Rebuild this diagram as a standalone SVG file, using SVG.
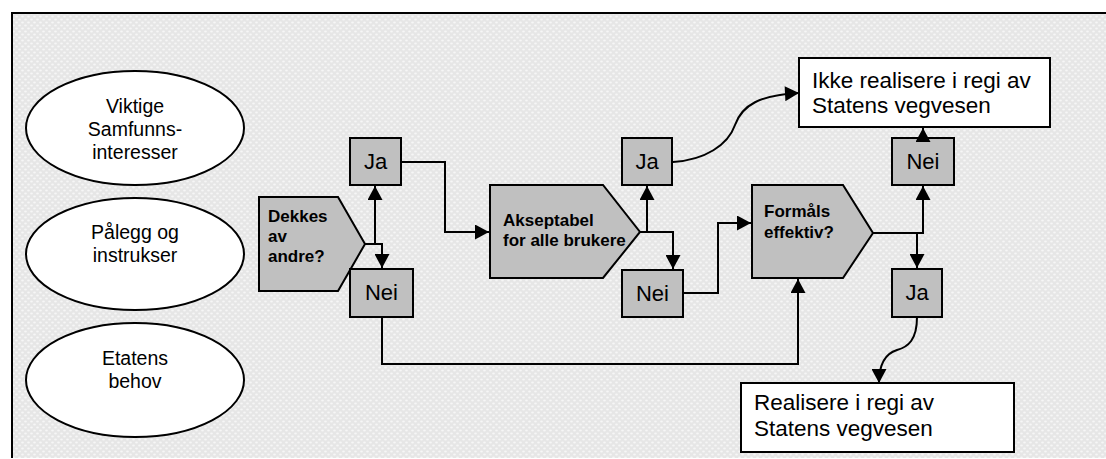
<svg xmlns="http://www.w3.org/2000/svg" width="1106" height="459" viewBox="0 0 1106 459">
<defs>
<pattern id="dots" x="0" y="0" width="6" height="6" patternUnits="userSpaceOnUse">
<rect width="6" height="6" fill="#e6e6e6"/>
<ellipse cx="1.5" cy="1.5" rx="1.4" ry="1" fill="#f6f6f6"/>
<ellipse cx="4.5" cy="4.5" rx="1.4" ry="1" fill="#f6f6f6"/>
</pattern>
<marker id="arr" markerUnits="userSpaceOnUse" markerWidth="15" markerHeight="15" viewBox="0 0 14 15" refX="14" refY="7.5" orient="auto">
<path d="M0,0 L14,7.5 L0,15 Z" fill="#000"/>
</marker>
<style>
.ell{fill:#fff;stroke:#000;stroke-width:2}
.dec{fill:#c0c0c0;stroke:#000;stroke-width:2}
.box{fill:#c0c0c0;stroke:#000;stroke-width:2}
.res{fill:#fff;stroke:#000;stroke-width:2}
.t{font-family:"Liberation Sans",Arial,sans-serif;fill:#000}
.te{font-size:19.5px;text-anchor:middle}
.tb{font-size:17px;font-weight:bold}
.tn{font-size:22px;text-anchor:middle}
.tr{font-size:22.5px}
.c{fill:none;stroke:#000;stroke-width:2;marker-end:url(#arr)}
</style>
</defs>
<rect x="12" y="13" width="1094" height="445" fill="url(#dots)"/>
<path d="M12,458 V13 H1106" fill="none" stroke="#000" stroke-width="2"/>

<g id="e1"><ellipse class="ell" cx="135" cy="128" rx="109" ry="57"/>
<text class="t te" x="135" y="113">Viktige</text><text class="t te" x="135" y="136">Samfunns-</text><text class="t te" x="135" y="159">interesser</text></g>
<g id="e2"><ellipse class="ell" cx="135" cy="254" rx="109" ry="56"/>
<text class="t te" x="135" y="239">Pålegg og</text><text class="t te" x="135" y="262">instrukser</text></g>
<g id="e3"><ellipse class="ell" cx="135" cy="380" rx="109" ry="57"/>
<text class="t te" x="135" y="365">Etatens</text><text class="t te" x="135" y="388">behov</text></g>

<g id="d1"><path class="dec" d="M259,197 L338,197 L365,244 L338,291 L259,291 Z"/>
<text class="t tb" x="268" y="222">Dekkes</text><text class="t tb" x="268" y="242">av</text><text class="t tb" x="268" y="262">andre?</text></g>
<g id="d2"><path class="dec" d="M490,185 L603,185 L640,232 L603,278 L490,278 Z"/>
<text class="t tb" x="503" y="226">Akseptabel</text><text class="t tb" x="503" y="246">for alle brukere</text></g>
<g id="d3"><path class="dec" d="M752,185 L843,185 L873,233 L843,278 L752,278 Z"/>
<text class="t tb" x="764" y="217">Formåls</text><text class="t tb" x="764" y="238">effektiv?</text></g>

<g id="connectors">
<path class="c" d="M365,244 H375 V186"/>
<path class="c" d="M365,244 H382 V268"/>
<path class="c" d="M401,162 H445 V232 H489"/>
<path class="c" d="M640,232 H647 V186"/>
<path class="c" d="M640,232 H673 V269"/>
<path class="c" d="M683,293 H718 V223 H751"/>
<path class="c" d="M873,233 H923 V186"/>
<path class="c" d="M873,233 H917 V268"/>
<path class="c" d="M382,317 V364 H798 V279"/>
<path class="c" d="M673,162 C705,160 728,145 735,125 C742,105 760,95 799,93"/>
<path class="c" d="M917,317 C917,340 908,347 897,350 C884,354 879,366 879,383"/>
</g>

<g id="ja1"><rect class="box" x="350" y="138" width="51" height="47"/><text class="t tn" x="375.5" y="169">Ja</text></g>
<g id="nei1"><rect class="box" x="350" y="269" width="63" height="48"/><text class="t tn" x="381.5" y="300">Nei</text></g>
<g id="ja2"><rect class="box" x="622" y="138" width="50" height="47"/><text class="t tn" x="647" y="169">Ja</text></g>
<g id="nei2"><rect class="box" x="622" y="270" width="61" height="47"/><text class="t tn" x="652.5" y="301">Nei</text></g>
<g id="nei3"><rect class="box" x="892" y="138" width="62" height="47"/><text class="t tn" x="923" y="169">Nei</text></g>
<g id="ja3"><rect class="box" x="892" y="269" width="50" height="48"/><text class="t tn" x="917" y="300">Ja</text></g>

<g id="ikke"><rect class="res" x="799" y="58" width="251" height="69"/>
<text class="t tr" x="812" y="88">Ikke realisere i regi av</text><text class="t tr" x="812" y="113">Statens vegvesen</text></g>
<g id="real"><rect class="res" x="741" y="383" width="273" height="69"/>
<text class="t tr" x="754" y="410">Realisere i regi av</text><text class="t tr" x="754" y="436">Statens vegvesen</text></g>

<g id="connectors-top"><path class="c" d="M923,142 V128"/></g>
</svg>
